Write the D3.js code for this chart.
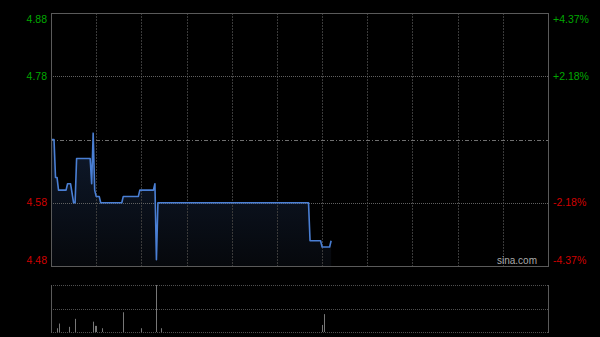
<!DOCTYPE html>
<meta charset="utf-8">
<style>
body { margin: 0; background: #000; }
svg { display: block; }
.lbl { font: 10.5px "Liberation Sans", Arial, sans-serif; }
</style>
<body>
<script src="https://d3js.org/d3.v7.min.js"></script>
<script>
/* minute index (0..330) and price of each point of the intraday line */
var minutes = [0, 2, 3, 4, 5, 10, 11, 13, 15, 16, 17, 26, 27, 28, 29, 30, 32, 33, 47, 48, 58, 59, 68, 69, 70, 71, 171, 172, 179, 180, 185, 186];
var prices  = [4.68, 4.68, 4.62, 4.62, 4.60, 4.60, 4.61, 4.61, 4.58, 4.58, 4.65, 4.65, 4.61, 4.69, 4.60, 4.59, 4.59, 4.58, 4.58, 4.59, 4.59, 4.60, 4.60, 4.61, 4.49, 4.58, 4.58, 4.52, 4.52, 4.51, 4.51, 4.52];

/* volume bars (relative units) */
var volMinutes = [4, 5, 12, 16, 28, 29, 30, 34, 48, 60, 70, 73, 180, 181];
var volumes    = [8, 18, 11, 28, 22, 13, 13, 8, 42, 8, 100, 8, 15, 38];

var prevClose = 4.68;
var priceTicks = [4.88, 4.78, 4.58, 4.48];
var pctTicks = ["+4.37%", "+2.18%", "-2.18%", "-4.37%"];
var gridMinutes = [30, 60, 90, 120, 150, 180, 210, 240, 270, 300];

var W = 600, H = 337;
var pLeft = 51, pRight = 548, pTop = 13, pBottom = 266;
var vTop = 285, vBottom = 332;

var x = d3.scaleLinear().domain([0, 330]).range([pLeft, pRight]);
var y = d3.scaleLinear().domain([4.48, 4.88]).range([pBottom, pTop]);
var yv = d3.scaleLinear().domain([0, d3.max(volumes)]).range([vBottom, vTop]);

var svg = d3.select("body").append("svg")
    .attr("width", W)
    .attr("height", H);

svg.append("rect").attr("width", W).attr("height", H).attr("fill", "#000");

// gradient for the area under the line
var grad = svg.append("defs").append("linearGradient")
    .attr("id", "fillGrad")
    .attr("gradientUnits", "userSpaceOnUse")
    .attr("x1", 0).attr("x2", 0)
    .attr("y1", y(4.69)).attr("y2", pBottom);
grad.append("stop").attr("offset", "0%").attr("stop-color", "#0f1a2d");
grad.append("stop").attr("offset", "100%").attr("stop-color", "#06080c");

var pts = minutes.map(function(m, i) { return {m: m, p: prices[i]}; });

// area
var area = d3.area()
    .x(function(d) { return x(d.m); })
    .y0(pBottom)
    .y1(function(d) { return y(d.p); });
svg.append("path")
    .attr("d", area(pts))
    .attr("fill", "url(#fillGrad)");

// vertical grid
svg.selectAll(".vgrid")
    .data(gridMinutes)
  .enter().append("line")
    .attr("x1", function(d) { return Math.round(x(d)) + 0.5; })
    .attr("x2", function(d) { return Math.round(x(d)) + 0.5; })
    .attr("y1", pTop).attr("y2", pBottom)
    .attr("stroke", "#3a3a3a")
    .attr("stroke-dasharray", "2,1");

// horizontal grid
svg.selectAll(".hgrid")
    .data([4.78, 4.58])
  .enter().append("line")
    .attr("x1", pLeft).attr("x2", pRight)
    .attr("y1", function(d) { return Math.round(y(d)) + 0.5; })
    .attr("y2", function(d) { return Math.round(y(d)) + 0.5; })
    .attr("stroke", "#606060")
    .attr("stroke-dasharray", "1,1");

// previous close line
svg.append("line")
    .attr("x1", pLeft).attr("x2", pRight)
    .attr("y1", Math.round(y(prevClose)) + 0.5)
    .attr("y2", Math.round(y(prevClose)) + 0.5)
    .attr("stroke", "#707070")
    .attr("stroke-dasharray", "4,2,1,2");

// price line
var line = d3.line()
    .x(function(d) { return x(d.m); })
    .y(function(d) { return y(d.p); });
svg.append("path")
    .attr("d", line(pts))
    .attr("fill", "none")
    .attr("stroke", "#4a7fd4")
    .attr("stroke-width", 1.6)
    .attr("stroke-linejoin", "round");

// frame
svg.append("rect")
    .attr("x", pLeft + 0.5).attr("y", pTop + 0.5)
    .attr("width", pRight - pLeft).attr("height", pBottom - pTop)
    .attr("fill", "none")
    .attr("stroke", "#5a5a5a");

// y labels
svg.selectAll(".pl")
    .data(priceTicks)
  .enter().append("text")
    .attr("class", "lbl")
    .attr("x", 47)
    .attr("y", function(d, i) { return i == 0 ? y(d) + 6 : (i == 3 ? y(d) - 6 : y(d)); })
    .attr("dy", "0.35em")
    .attr("text-anchor", "end")
    .attr("fill", function(d) { return d > prevClose ? "#00a800" : "#d00000"; })
    .text(function(d) { return d.toFixed(2); });

svg.selectAll(".pr")
    .data(pctTicks)
  .enter().append("text")
    .attr("class", "lbl")
    .attr("x", 553)
    .attr("y", function(d, i) { var v = y(priceTicks[i]); return i == 0 ? v + 6 : (i == 3 ? v - 6 : v); })
    .attr("dy", "0.35em")
    .attr("fill", function(d) { return d[0] == "+" ? "#00a800" : "#d00000"; })
    .text(function(d) { return d; });

svg.append("text")
    .attr("class", "lbl")
    .attr("x", 537).attr("y", 264)
    .attr("text-anchor", "end")
    .attr("fill", "#aaa")
    .style("font-size", "10px")
    .text("sina.com");

// volume panel
[vTop, (vTop + vBottom) / 2, vBottom].forEach(function(v) {
  svg.append("line")
      .attr("x1", pLeft).attr("x2", pRight)
      .attr("y1", Math.round(v) + 0.5).attr("y2", Math.round(v) + 0.5)
      .attr("stroke", "#505050")
      .attr("stroke-dasharray", "1,1");
});
[pLeft, pRight].forEach(function(v) {
  svg.append("line")
      .attr("x1", v + 0.5).attr("x2", v + 0.5)
      .attr("y1", vTop).attr("y2", vBottom + 1)
      .attr("stroke", "#5a5a5a");
});

svg.selectAll(".vol")
    .data(volumes)
  .enter().append("line")
    .attr("x1", function(d, i) { return Math.round(x(volMinutes[i])) + 0.5; })
    .attr("x2", function(d, i) { return Math.round(x(volMinutes[i])) + 0.5; })
    .attr("y1", vBottom)
    .attr("y2", function(d) { return yv(d); })
    .attr("stroke", "#777");
</script>
</body>
